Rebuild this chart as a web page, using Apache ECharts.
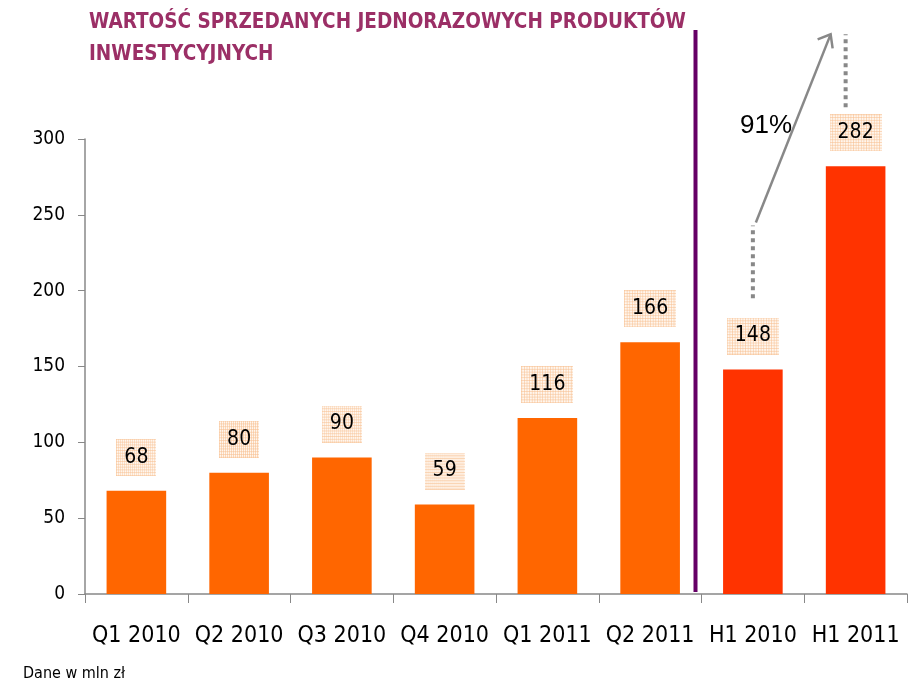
<!DOCTYPE html>
<html>
<head>
<meta charset="utf-8">
<script src="https://cdn.jsdelivr.net/npm/echarts@6/dist/echarts.min.js"></script>
<style>
html,body{margin:0;padding:0;background:#fff;}
#main{width:911px;height:683px;}
</style>
</head>
<body>
<div id="main"></div>
<script>
// dane
let categories = ['Q1 2010','Q2 2010','Q3 2010','Q4 2010','Q1 2011','Q2 2011','H1 2010','H1 2011'];
let values = [68, 80, 90, 59, 116, 166, 148, 282];
let halfYear = [false, false, false, false, false, false, true, true];
let yTicks = {min: 0, max: 300, interval: 50};
let growthLabel = '91%';

// tło etykiet - kratka
function gridPattern(w, h){
    let c = document.createElement('canvas');
    c.width = w; c.height = h;
    let ctx = c.getContext('2d');
    ctx.fillStyle = '#fff6ee';
    ctx.fillRect(0,0,w,h);
    ctx.strokeStyle = 'rgba(248,190,140,0.55)';
    ctx.lineWidth = 1;
    for(let x = 0.5; x < w; x += 3){
        ctx.beginPath(); ctx.moveTo(x,0); ctx.lineTo(x,h); ctx.stroke();
    }
    for(let y = 0.5; y < h; y += 3){
        ctx.beginPath(); ctx.moveTo(0,y); ctx.lineTo(w,y); ctx.stroke();
    }
    return c;
}
let pattern = gridPattern(60, 40);
let narrow = 'DejaVu Sans Condensed';

let chart = echarts.init(document.getElementById('main'));
let option = {
    animation:false,
    title:{
        text:'WARTOŚĆ SPRZEDANYCH JEDNORAZOWYCH PRODUKTÓW\nINWESTYCYJNYCH',
        left:84,
        top:2,
        textStyle:{
            color:'#9b2f66',
            fontFamily:narrow,
            fontWeight:'bold',
            fontSize:20.5,
            lineHeight:32
        }
    },
    grid:{
        left:85,
        right:4,
        top:139,
        bottom:89
    },
    xAxis:{
        type:'category',
        data:categories,
        axisLine:{lineStyle:{color:'#888',width:1.5}},
        axisTick:{show:true,length:9,lineStyle:{color:'#888'}},
        axisLabel:{
            interval:0,
            color:'#000',
            fontFamily:narrow,
            fontSize:23,
            margin:31
        }
    },
    yAxis:{
        type:'value',
        min:yTicks.min,
        max:yTicks.max,
        interval:yTicks.interval,
        axisLine:{show:true,lineStyle:{color:'#888',width:1.5}},
        axisTick:{show:true,length:7,inside:false,lineStyle:{color:'#888'}},
        splitLine:{show:false},
        axisLabel:{
            color:'#000',
            fontFamily:narrow,
            fontSize:19,
            margin:20
        }
    },
    series:[{
        type:'bar',
        barCategoryGap:'42%',
        data:values.map(function(v,i){
            return {
                value:v,
                itemStyle:{color: halfYear[i] ? '#ff3300' : '#ff6600'}
            };
        }),
        label:{
            show:true,
            position:'top',
            distance:15,
            color:'#000',
            fontFamily:narrow,
            fontSize:21,
            padding:[8,8,8,8],
            backgroundColor:{image:pattern}
        }
    }]
};
chart.setOption(option);

// adnotacje
let p1 = chart.convertToPixel({gridIndex:0}, ['H1 2010', 195]);
let p1b = chart.convertToPixel({gridIndex:0}, ['H1 2010', 243]);
let p2 = chart.convertToPixel({gridIndex:0}, ['H1 2011', 321]);
let p2b = chart.convertToPixel({gridIndex:0}, ['H1 2011', 369]);
let pQ2 = chart.convertToPixel({gridIndex:0}, ['Q2 2011', 0]);
let pH1 = chart.convertToPixel({gridIndex:0}, ['H1 2010', 0]);
let sepX = (pQ2[0] + pH1[0]) / 2 - 6;
let dotX2 = p2[0] - 10;

chart.setOption({
    graphic:[
        {
            type:'line',
            shape:{x1:sepX, y1:30, x2:sepX, y2:pQ2[1]-2},
            style:{stroke:'#660066', lineWidth:4}
        },
        {
            type:'line',
            shape:{x1:p1[0], y1:p1[1], x2:p1b[0], y2:p1b[1]},
            style:{stroke:'#888', lineWidth:4, lineDash:[4,4]}
        },
        {
            type:'line',
            shape:{x1:dotX2, y1:p2[1], x2:dotX2, y2:p2b[1]},
            style:{stroke:'#888', lineWidth:4, lineDash:[4,4]}
        },
        {
            type:'line',
            shape:{x1:p1b[0]+3, y1:p1b[1]-3, x2:dotX2-15, y2:p2b[1]},
            style:{stroke:'#888', lineWidth:2.5}
        },
        {
            type:'polyline',
            shape:{points:[[dotX2-28, p2b[1]+5],[dotX2-15, p2b[1]],[dotX2-13, p2b[1]+14]]},
            style:{stroke:'#888', lineWidth:2.5, fill:null}
        },
        {
            type:'text',
            x:740,
            y:p2b[1]+78,
            style:{
                text:growthLabel,
                fill:'#000',
                fontFamily:'Liberation Sans',
                fontSize:26
            }
        },
        {
            type:'text',
            x:23,
            y:666,
            style:{
                text:'Dane w mln zł',
                fill:'#000',
                fontFamily:narrow,
                fontSize:16
            }
        }
    ]
});
</script>
</body>
</html>
